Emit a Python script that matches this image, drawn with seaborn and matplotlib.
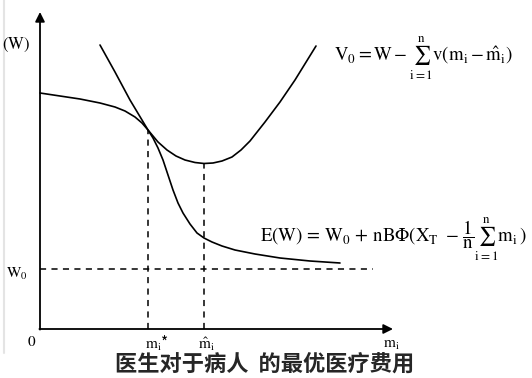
import numpy as np
import pandas as pd
import matplotlib
matplotlib.use("Agg")
import matplotlib.pyplot as plt
import seaborn as sns

# E(W) curve (decreasing S shape), origin of the sketch at (0, 0)
ew_x = [0, 20, 40, 60, 75, 85, 95, 102, 108, 113, 118, 123, 128, 133, 138,
        143, 150, 157, 164, 172, 182, 195, 215, 240, 270, 300]
ew_y = [236, 233, 230, 226, 222, 218, 212, 206, 199, 191, 181, 169, 154, 139, 126,
        116, 105, 96, 91, 87, 83, 79, 75, 71, 68, 66]

# V0 curve (U shape)
v0_x = [60, 75, 90, 108, 118, 127, 136, 145, 155, 164, 173, 182, 192, 201,
        210, 225, 240, 255, 276]
v0_y = [284, 257, 229, 199, 187, 179, 173, 169, 166.5, 165.5, 166, 168, 172, 179,
        188, 207, 227, 249, 283]

# reference levels
w0_level = 60
m_star = 108
m_hat = 164
x_end = 353
y_end = 317
title = "医生对于病人  的最优医疗费用"

sns.set_style("white")
plt.rcParams["font.family"] = ["Noto Sans CJK SC", "DejaVu Sans"]
plt.rcParams["mathtext.fontset"] = "stix"

fig = plt.figure(figsize=(5.32, 3.78), dpi=100)
ax = fig.add_axes([0, 0, 1, 1])
ax.set_xlim(-40, 492)
ax.set_ylim(-49, 329)
ax.axis("off")

df_ew = pd.DataFrame({"x": ew_x, "y": ew_y})
df_v0 = pd.DataFrame({"x": v0_x, "y": v0_y})
sns.lineplot(data=df_ew, x="x", y="y", ax=ax, color="black", lw=1.2, sort=False)
sns.lineplot(data=df_v0, x="x", y="y", ax=ax, color="black", lw=1.2, sort=False)

# dashed guides
dash = dict(color="black", lw=1.1, ls=(0, (4, 3.5)))
ax.plot([0, 333], [w0_level, w0_level], **dash)
ax.plot([m_star, m_star], [0, 199], **dash)
ax.plot([m_hat, m_hat], [0, 165.5], **dash)

# axes with arrows
arrow = dict(arrowstyle="-|>", color="black", lw=1.3, mutation_scale=14,
             shrinkA=0, shrinkB=0)
ax.annotate("", xy=(x_end, 0), xytext=(-0.6, 0), arrowprops=arrow)
ax.annotate("", xy=(0, y_end), xytext=(0, -0.6), arrowprops=arrow)

# faint border on the left
ax.plot([-36, -36], [329, -24], color="#e4e4e4", lw=1.5)

tk = dict(fontsize=11, color="black", ha="center", va="center")
ax.text(-24, 284, r"$\mathrm{(W)}$", fontsize=12, color="black", ha="center", va="center")
ax.text(-23, 56, r"$\mathrm{W}_0$", **tk)
ax.text(-8, -13, r"$\mathrm{0}$", **tk)
ax.text(117, -14, r"$\mathrm{m}_\mathrm{i}$*", **tk)
ax.text(166, -15, r"$\hat{\mathrm{m}}_\mathrm{i}$", **tk)
ax.text(351, -14, r"$\mathrm{m}_\mathrm{i}$", **tk)

fk = dict(fontsize=13.5, color="black", va="center")
ax.text(383, 271, r"$\mathrm{V}_0 = \mathrm{W} - \sum_{\mathrm{i}=1}^{\mathrm{n}}"
        r"\mathrm{v}(\mathrm{m}_\mathrm{i} - \hat{\mathrm{m}}_\mathrm{i})$", ha="center", **fk)
ax.text(487, 90, r"$\mathrm{E(W)}\, =\, \mathrm{W}_0\, +\, \mathrm{nB}\Phi(\mathrm{X}_\mathrm{T}\ -\, "
        r"\dfrac{1}{\mathrm{n}}\sum_{\mathrm{i}=1}^{\mathrm{n}}\mathrm{m}_\mathrm{i}\,)$", ha="right", **fk)

ax.text(225, -35, title, fontsize=16, fontweight="bold", ha="center", va="center")

fig.savefig("out.png", dpi=100)
